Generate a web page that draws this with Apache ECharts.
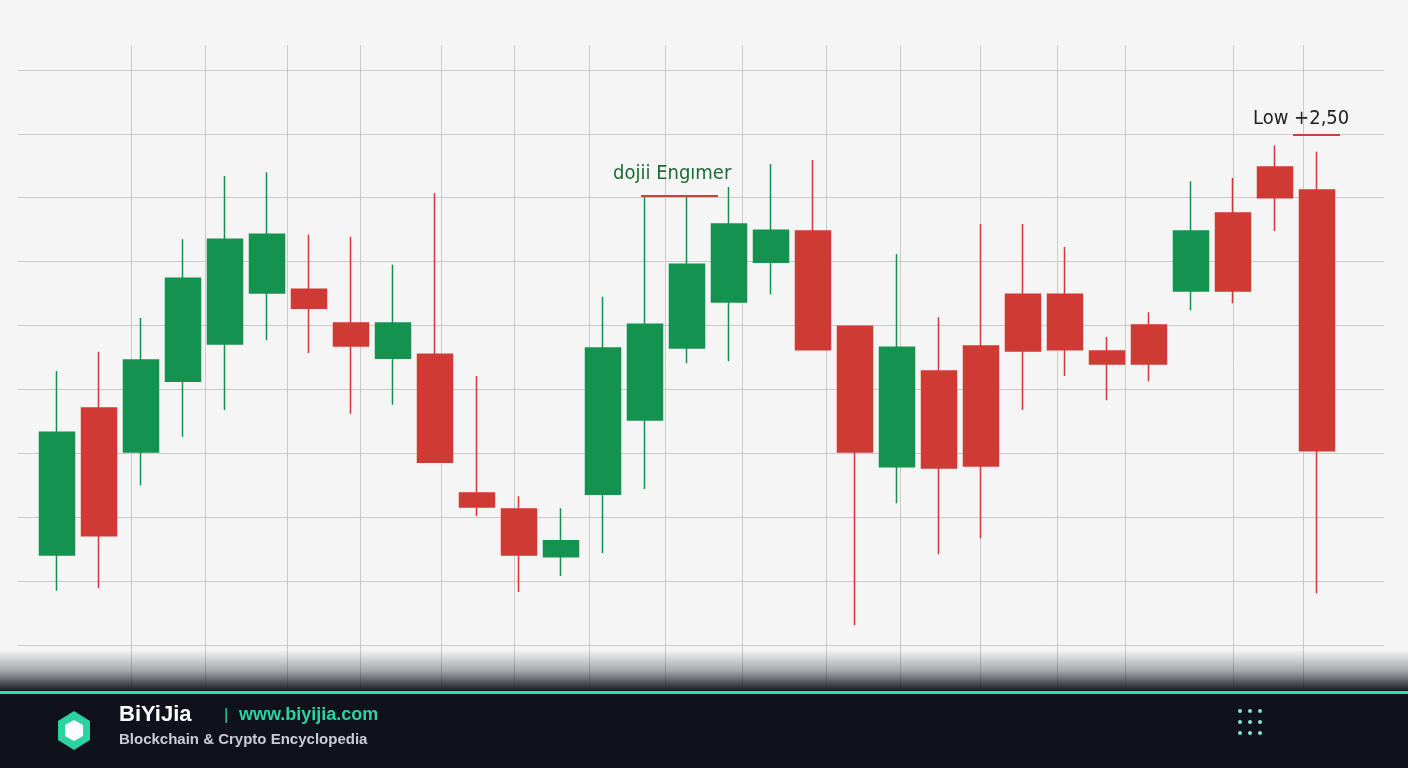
<!DOCTYPE html>
<html>
<head>
<meta charset="utf-8">
<script src="https://cdn.jsdelivr.net/npm/echarts@6/dist/echarts.min.js"></script>
<style>html,body{margin:0;padding:0;background:#f5f5f5}#main{width:1408px;height:768px}</style>
</head>
<body>
<div id="main"></div>
<script>
// candle data: [open, close, low, high]
var opens  = [14.1,37.1,30.2,41.3,47.1,55.1,55.7,50.4,44.9,45.5,23.8,21.3,13.8,23.6,35.2,46.5,53.7,59.9,64.8,49.9,27.9,42.9,46.8,54.9,54.9,46.0,50.1,55.4,67.6,74.8,71.2];
var closes = [33.3,17.1,44.6,57.4,63.5,64.3,52.7,46.8,50.4,28.6,21.6,14.1,16.3,46.5,50.2,59.6,65.9,64.9,46.2,30.2,46.6,27.7,28.0,46.0,46.2,44.0,44.0,64.8,55.4,70.0,30.4];
var lows   = [8.5,8.9,25.0,32.6,36.8,47.7,45.7,36.2,37.6,28.6,20.2,8.3,10.8,14.4,24.4,44.1,44.4,54.9,46.2,3.1,22.2,14.2,16.7,36.8,42.1,38.3,41.3,52.4,53.5,64.8,8.1];
var highs  = [42.9,45.9,51.2,63.5,73.4,74.0,64.2,63.9,59.5,70.7,42.1,23.3,21.4,54.5,70.3,70.3,71.7,75.3,75.9,49.9,61.2,51.3,65.9,65.9,62.3,48.2,52.1,72.6,73.1,78.2,77.2];
var hLines = [0,10,20,30,40,50,60,70,80,90];
var vLines = [131,205,287,360,441,514,589,665,742,826,900,980,1057,1125,1233,1303];

var cats = opens.map(function(_, i){ return 'C' + (i + 1); });
var candles = opens.map(function(o, i){ return [o, closes[i], lows[i], highs[i]]; });

var chart = echarts.init(document.getElementById('main'));
var lineStyle = { color: '#cacaca', width: 1, type: 'solid' };

chart.setOption({
  backgroundColor: '#f5f5f5',
  animation: false,
  grid: [
    { left: 36, right: 1408 - 1338, top: 70, bottom: 123 },
    { left: 0, right: 0, top: 45, bottom: 78 }
  ],
  xAxis: [
    { type: 'category', data: cats, gridIndex: 0, show: false },
    { type: 'value', gridIndex: 1, min: 0, max: 1408, show: false }
  ],
  yAxis: [
    { type: 'value', gridIndex: 0, min: 0, max: 90, show: false },
    { type: 'value', gridIndex: 1, min: -7.04, max: 93.9, show: false }
  ],
  series: [
    {
      type: 'line', xAxisIndex: 1, yAxisIndex: 1, data: [], silent: true, z: 1,
      markLine: {
        symbol: 'none', silent: true, z: 1, label: { show: false }, lineStyle: lineStyle,
        data: hLines.map(function(v){ return [{ coord: [18, v] }, { coord: [1384, v] }]; })
          .concat(vLines.map(function(x){ return [{ coord: [x, 93.9] }, { coord: [x, -7.04] }]; }))
      }
    },
    {
      type: 'candlestick', xAxisIndex: 0, yAxisIndex: 0, data: candles, barWidth: 35, z: 5,
      itemStyle: { color: '#14924f', borderColor: '#14924f', color0: '#d03a35', borderColor0: '#d03a35', borderWidth: 1.5 }
    }
  ],
  graphic: [
    { type: 'text', left: 613, top: 164, z: 10, style: { text: 'dojii Engımer', fill: '#1d6b35', font: '20px "DejaVu Sans Condensed", sans-serif' } },
    { type: 'rect', left: 641, top: 195, z: 10, shape: { width: 77, height: 2 }, style: { fill: '#c8423c' } },
    { type: 'text', left: 1253, top: 109, z: 10, style: { text: 'Low +2,50', fill: '#222', font: '20px "DejaVu Sans Condensed", sans-serif' } },
    { type: 'rect', left: 1293, top: 134, z: 10, shape: { width: 47, height: 2 }, style: { fill: '#c8423c' } },
    { type: 'rect', left: 0, top: 650, z: 10, shape: { width: 1408, height: 42 },
      style: { fill: new echarts.graphic.LinearGradient(0, 0, 0, 1, [{ offset: 0, color: 'rgba(15,18,26,0)' }, { offset: 0.5, color: 'rgba(15,18,26,0.35)' }, { offset: 1, color: 'rgba(15,18,26,1)' }]) } },
    { type: 'rect', left: 0, top: 692, z: 10, shape: { width: 1408, height: 76 }, style: { fill: '#0f121a' } },
    { type: 'rect', left: 0, top: 691, z: 10, shape: { width: 1408, height: 3 }, style: { fill: '#2de0b0' } },
    { type: 'polygon', z: 10, shape: { points: [[74,711],[90,721],[90,740],[74,750],[58,740],[58,721]] }, style: { fill: '#2bd3a0' } },
    { type: 'polygon', z: 11, shape: { points: [[74,720],[83,725],[83,736],[74,741],[65,736],[65,725]] }, style: { fill: '#ffffff' } },
    { type: 'text', left: 119, top: 704, z: 10, style: { text: 'BiYiJia', fill: '#ffffff', font: 'bold 22px "Liberation Sans", Arial, sans-serif' } },
    { type: 'text', left: 224, top: 707, z: 10, style: { text: '|', fill: '#2bd3a0', font: '17px "Liberation Sans", Arial, sans-serif' } },
    { type: 'text', left: 239, top: 706, z: 10, style: { text: 'www.biyijia.com', fill: '#2bd3a0', font: 'bold 18px "Liberation Sans", Arial, sans-serif' } },
    { type: 'text', left: 119, top: 732, z: 10, style: { text: 'Blockchain & Crypto Encyclopedia', fill: '#c8ccd4', font: 'bold 15px "Liberation Sans", Arial, sans-serif' } }
  ].concat([0,1,2].reduce(function(acc, r){
    return acc.concat([0,1,2].map(function(c){
      return { type: 'circle', z: 10, shape: { cx: 1240 + c * 10, cy: 711 + r * 11, r: 2 }, style: { fill: '#7fe8cc' } };
    }));
  }, []))
});
</script>
</body>
</html>
